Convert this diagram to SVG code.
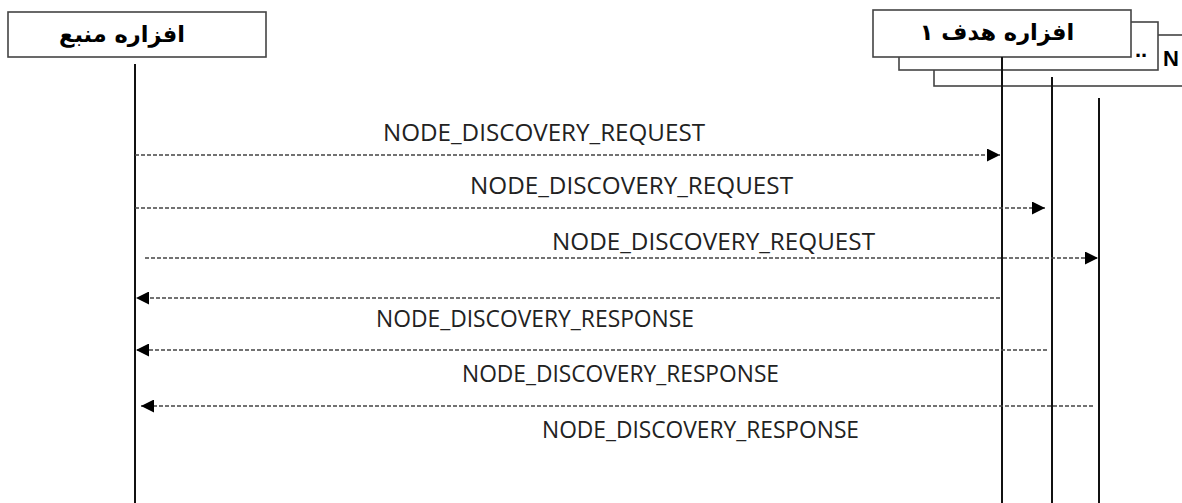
<svg xmlns="http://www.w3.org/2000/svg" width="1182" height="503" viewBox="0 0 1182 503">
<style>
.box{fill:#fff;stroke:#444;stroke-width:1.6}
.life{stroke:#111;stroke-width:2;fill:none}
.msg{stroke:#444;stroke-width:1.6;stroke-dasharray:4 2;fill:none}
.lbl{font-family:"Open Sans","DejaVu Sans",sans-serif;font-size:23px;fill:#222}
.fa{font-family:"DejaVu Sans",sans-serif;font-weight:bold;font-size:22.5px;fill:#000;direction:rtl}
</style>
<defs>
<marker id="ah" viewBox="0 0 13 13" refX="13" refY="6.5" markerWidth="13" markerHeight="13" markerUnits="userSpaceOnUse" orient="auto">
<path d="M0,0 L13,6.5 L0,13 z" fill="#000"/>
</marker>
</defs>
<rect width="1182" height="503" fill="#fff"/>
<g id="node-source">
<rect class="box" x="8" y="12" width="258" height="45"/>
<text class="fa" x="122" y="42" text-anchor="middle">افزاره منبع</text>
<line class="life" x1="135" y1="64" x2="135" y2="503" stroke="#444"/>
</g>
<g id="node-targetN">
<rect class="box" x="934" y="35" width="270" height="51"/>
<text x="1163" y="66" font-family="Liberation Sans, Arial, sans-serif" font-weight="bold" font-size="22" fill="#000">N</text>
<line class="life" x1="1099" y1="98" x2="1099" y2="503"/>
</g>
<g id="node-target2">
<rect class="box" x="899" y="22" width="259" height="48"/>
<text x="1135" y="57" font-family="Liberation Sans, Arial, sans-serif" font-weight="bold" font-size="22" fill="#000">..</text>
<line class="life" x1="1052" y1="77" x2="1052" y2="503"/>
</g>
<g id="node-target1">
<rect class="box" x="873" y="10" width="258" height="47"/>
<text class="fa" x="997" y="40" text-anchor="middle">افزاره هدف ۱</text>
<line class="life" x1="1002" y1="57" x2="1002" y2="503"/>
</g>
<g id="connectors">
<line class="msg" x1="135" y1="155" x2="1000" y2="155" marker-end="url(#ah)"/>
<line class="msg" x1="135" y1="208" x2="1045" y2="208" marker-end="url(#ah)"/>
<line class="msg" x1="145" y1="258" x2="1098" y2="258" marker-end="url(#ah)"/>
<line class="msg" x1="1000" y1="298" x2="136" y2="298" marker-end="url(#ah)"/>
<line class="msg" x1="1047" y1="350" x2="136" y2="350" marker-end="url(#ah)"/>
<line class="msg" x1="1093" y1="406" x2="141" y2="406" marker-end="url(#ah)"/>
</g>
<g id="labels">
<text class="lbl" x="383" y="141" textLength="322" lengthAdjust="spacingAndGlyphs">NODE_DISCOVERY_REQUEST</text>
<text class="lbl" x="470" y="194" textLength="323" lengthAdjust="spacingAndGlyphs">NODE_DISCOVERY_REQUEST</text>
<text class="lbl" x="552" y="250" textLength="323" lengthAdjust="spacingAndGlyphs">NODE_DISCOVERY_REQUEST</text>
<text class="lbl" x="376" y="327" textLength="318" lengthAdjust="spacingAndGlyphs">NODE_DISCOVERY_RESPONSE</text>
<text class="lbl" x="462" y="382" textLength="317" lengthAdjust="spacingAndGlyphs">NODE_DISCOVERY_RESPONSE</text>
<text class="lbl" x="542" y="438" textLength="317" lengthAdjust="spacingAndGlyphs">NODE_DISCOVERY_RESPONSE</text>
</g>
</svg>
